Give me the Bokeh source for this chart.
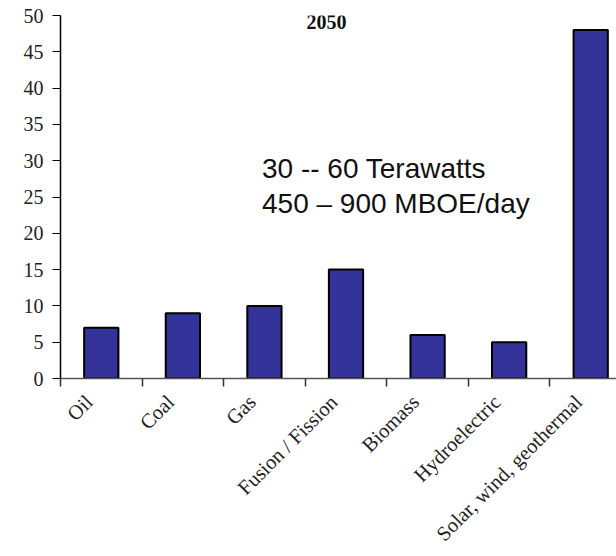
import numpy as np
from bokeh.plotting import figure
from bokeh.models import ColumnDataSource, Range1d, FixedTicker, Label
from bokeh.embed import file_html
from bokeh.resources import INLINE

categories = ["Oil", "Coal", "Gas", "Fusion / Fission", "Biomass", "Hydroelectric", "Solar, wind, geothermal"]
values = [7, 9, 10, 15, 6, 5, 48]
y_ticks = [0, 5, 10, 15, 20, 25, 30, 35, 40, 45, 50]
title_text = "2050"
note_lines = ["30 -- 60 Terawatts", "450 \u2013 900  MBOE/day"]

centers = list(np.arange(len(categories)) + 0.5)
bounds = list(np.arange(len(categories) + 1))
# slanted names sit a little left of each bar centre
label_pos = [float(c - 0.15) for c in centers]

src = ColumnDataSource(dict(x=centers, top=values, cat=categories))

p = figure(width=616, height=556, output_backend="svg", toolbar_location=None,
           x_range=Range1d(0, 6.816), y_range=Range1d(0, 50),
           min_border_left=60, min_border_right=0, min_border_top=15, min_border_bottom=178)
p.outline_line_color = None
p.xgrid.visible = False
p.ygrid.visible = False
p.background_fill_color = "white"
p.border_fill_color = "white"

p.vbar(x="x", top="top", width=0.42, source=src, fill_color="#333399",
       line_color="black", line_width=2)

# y axis
ya = p.yaxis[0]
ya.ticker = FixedTicker(ticks=y_ticks, minor_ticks=[])
ya.axis_line_color = "black"
ya.axis_line_width = 1.5
ya.major_tick_line_color = "black"
ya.major_tick_out = 8
ya.major_tick_in = 0
ya.minor_tick_out = 0
ya.major_label_standoff = 9
ya.major_label_text_font = "Liberation Serif"
ya.major_label_text_font_size = "20px"
ya.major_label_text_color = "#222222"

# x axis: names near category centres, tick marks at category boundaries
xa = p.xaxis[0]
xa.ticker = FixedTicker(ticks=label_pos, minor_ticks=bounds)
xa.major_label_overrides = {lp: n for lp, n in zip(label_pos, categories)}
xa.axis_line_color = "#555555"
xa.axis_line_width = 1.5
xa.major_tick_out = 0
xa.major_tick_in = 0
xa.minor_tick_line_color = "#333333"
xa.minor_tick_line_width = 1.5
xa.minor_tick_out = 8
xa.minor_tick_in = 0
xa.major_label_orientation = np.pi / 4
xa.major_label_standoff = 12
xa.major_label_text_font = "Liberation Serif"
xa.major_label_text_font_size = "20.5px"
xa.major_label_text_color = "#222222"

p.add_layout(Label(x=3.26, y=49.17, text=title_text, text_align="center",
                   text_baseline="middle", text_font="Liberation Serif",
                   text_font_style="bold", text_font_size="20px", text_color="#111111"))
p.add_layout(Label(x=2.47, y=28.93, text=note_lines[0], text_align="left",
                   text_baseline="middle", text_font="Liberation Sans",
                   text_font_size="28px", text_color="#111111"))
p.add_layout(Label(x=2.47, y=24.1, text=note_lines[1], text_align="left",
                   text_baseline="middle", text_font="Liberation Sans",
                   text_font_size="28px", text_color="#111111"))

open("out.html", "w").write(file_html(p, INLINE))
